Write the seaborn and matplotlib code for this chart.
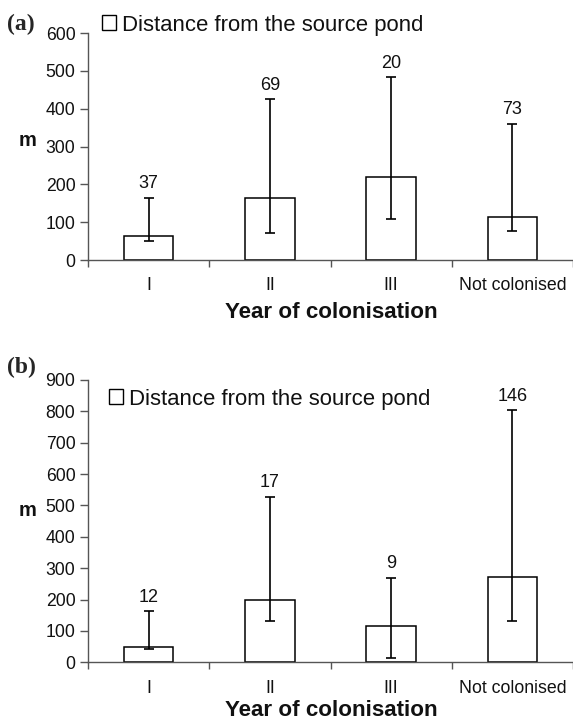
import matplotlib
matplotlib.use("Agg")
import matplotlib.pyplot as plt
import seaborn as sns
import pandas as pd
import numpy as np
from matplotlib.patches import Patch

sns.set_style("white")
plt.rcParams['font.family'] = ['Liberation Sans', 'DejaVu Sans']

categories = ["I", "II", "III", "Not colonised"]
legend_label = "Distance from the source pond"

# panel (a)
a_values = [63, 164, 219, 114]
a_low = [50, 71, 108, 76]
a_high = [164, 425, 483, 360]
a_n = [37, 69, 20, 73]

# panel (b)
b_values = [48, 199, 116, 273]
b_low = [41, 132, 14, 132]
b_high = [163, 528, 269, 803]
b_n = [12, 17, 9, 146]

fig = plt.figure(figsize=(5.73, 7.23), dpi=100)
W, H = 573, 723

def make_axes(top_px, bottom_px):
    left = 88 / W
    right = 1.0
    return fig.add_axes([left, 1 - bottom_px / H, right - left, (bottom_px - top_px) / H])

axA = make_axes(33, 260)
axB = make_axes(380, 662.3)

spine_col = "#555555"
txt_col = "#111111"

def draw(ax, values, low, high, n, ymax, step):
    df = pd.DataFrame({"cat": categories, "val": values})
    sns.barplot(data=df, x="cat", y="val", ax=ax, color="white",
                edgecolor="black", linewidth=1.1, width=0.41,
                errorbar=None, label=legend_label)
    x = np.arange(len(categories))
    v = np.array(values)
    yerr = np.array([v - np.array(low), np.array(high) - v])
    ax.errorbar(x, v, yerr=yerr, fmt="none", ecolor="black",
                elinewidth=1.2, capsize=3.7, capthick=1.2)
    for xi, hi, ni in zip(x, high, n):
        ax.annotate(str(ni), (xi, hi), xytext=(0, 4), textcoords="offset points",
                    ha="center", va="bottom", fontsize=13, color=txt_col)
    ax.set_xlim(-0.5, 3.5)
    ax.set_ylim(0, ymax)
    ax.set_yticks(np.arange(0, ymax + 1, step))
    ax.set_xlabel("")
    ax.set_ylabel("")
    for s in ["top", "right"]:
        ax.spines[s].set_visible(False)
    for s in ["left", "bottom"]:
        ax.spines[s].set_color(spine_col)
        ax.spines[s].set_linewidth(1.0)
    ax.tick_params(axis="y", which="major", left=True, length=5.5, width=1.0,
                   color=spine_col, labelsize=12.7, labelcolor=txt_col, pad=3.5)
    ax.tick_params(axis="x", which="major", bottom=False, labelsize=12.8,
                   labelcolor=txt_col, pad=9)
    ax.set_xticks([0.5, 1.5, 2.5, -0.5, 3.5], minor=True)
    ax.tick_params(axis="x", which="minor", bottom=True, length=5, width=1.0,
                   color=spine_col, direction="out")

draw(axA, a_values, a_low, a_high, a_n, 600, 100)
draw(axB, b_values, b_low, b_high, b_n, 900, 100)

for ax, lx, ly in [(axA, 102 / W, 1 - 25 / H), (axB, 109 / W, 1 - 399 / H)]:
    h = Patch(facecolor="white", edgecolor="black", linewidth=1.0)
    ax.legend([h], [legend_label], loc="center left", bbox_to_anchor=(lx, ly),
              bbox_transform=fig.transFigure, frameon=False, fontsize=15.9,
              handlelength=0.65, handleheight=0.65, handletextpad=0.25,
              borderpad=0, borderaxespad=0, labelcolor=txt_col)

fig.text(331 / W, 1 - 313 / H, "Year of colonisation", ha="center", va="center",
         fontsize=16.1, fontweight="bold", color=txt_col)
fig.text(331 / W, 1 - 710 / H, "Year of colonisation", ha="center", va="center",
         fontsize=16.1, fontweight="bold", color=txt_col)
fig.text(28 / W, 1 - 140 / H, "m", ha="center", va="center", fontsize=14.5,
         fontweight="bold", color=txt_col)
fig.text(28 / W, 1 - 510 / H, "m", ha="center", va="center", fontsize=14.5,
         fontweight="bold", color=txt_col)
fig.text(7 / W, 1 - 24 / H, "(a)", ha="left", va="center", fontsize=17,
         fontweight="bold", family=["Liberation Serif", "DejaVu Serif"])
fig.text(7 / W, 1 - 367 / H, "(b)", ha="left", va="center", fontsize=17,
         fontweight="bold", family=["Liberation Serif", "DejaVu Serif"])

fig.savefig("out.png", dpi=100)
